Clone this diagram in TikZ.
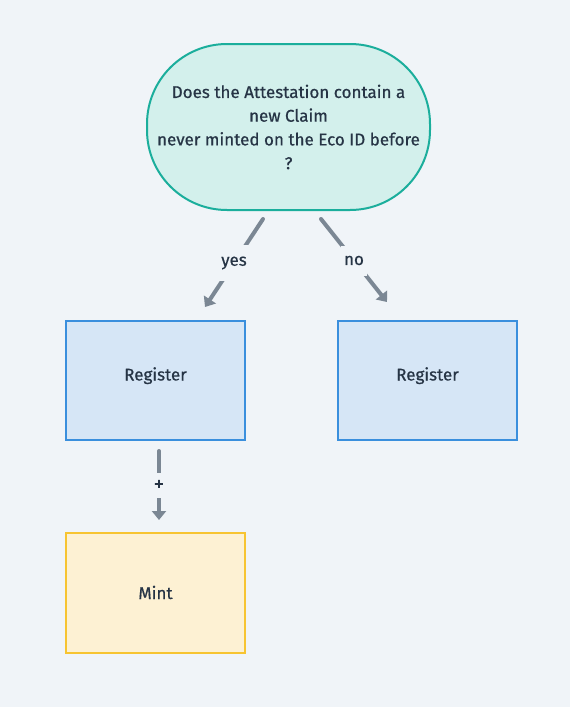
\documentclass[tikz,border=0pt]{standalone}
\usepackage{fontspec}
\setmainfont{Fira Sans}[FakeBold=0.6]
\usetikzlibrary{arrows.meta}
\definecolor{bg}{HTML}{F0F4F8}
\definecolor{ink}{HTML}{263445}
\definecolor{wire}{HTML}{7B8794}
\definecolor{askfill}{HTML}{D3F0EC}
\definecolor{askline}{HTML}{1BAE9C}
\definecolor{regfill}{HTML}{D6E6F6}
\definecolor{regline}{HTML}{3A8FDD}
\definecolor{mintfill}{HTML}{FDF1D3}
\definecolor{mintline}{HTML}{F7C431}
\tikzset{
    box/.style={draw, line width=2pt, minimum width=179pt, minimum height=119pt, text=ink, text height=12pt, text depth=0pt, font=\fontsize{17}{20}\selectfont},
    reg/.style={box, draw=regline, fill=regfill, text depth=12pt},
    ask/.style={draw=askline, fill=askfill, line width=2pt, rounded corners=80pt, minimum width=283pt, minimum height=166pt, align=center, text=ink, font=\fontsize{17}{23.7}\selectfont},
    wired/.style={draw=wire, line width=4pt, line cap=round, -{Triangle[width=14pt,length=9pt]}},
    tag/.style={fill=bg, text=ink, inner xsep=3pt, font=\fontsize{17}{20}\selectfont}
}
\begin{document}
\begin{tikzpicture}[x=1pt,y=-1pt]
    \fill[bg] (0,0) rectangle (570,707);
    \useasboundingbox (0,0) rectangle (570,707);
    \node[ask] (q) at (288.5,127) {Does the Attestation contain a\\new Claim\\never minted on the Eco ID before\\?};
    \node[reg] (reg1) at (155.5,380.5) {Register};
    \node[reg] (reg2) at (427.5,380.5) {Register};
    \node[box, draw=mintline, fill=mintfill, minimum height=120pt] (mint) at (155.5,593) {Mint};
    % free ends of the connectors
    \coordinate (yesA) at ([xshift=-25.5pt,yshift=-8pt]q.south);
    \coordinate (yesB) at ([xshift=49.5pt,yshift=13pt]reg1.north);
    \coordinate (noA) at ([xshift=32.5pt,yshift=-8pt]q.south);
    \coordinate (noB) at ([xshift=-40.5pt,yshift=18pt]reg2.north);
    \coordinate (plusA) at ([xshift=3.5pt,yshift=-10pt]reg1.south);
    \coordinate (plusB) at ([xshift=3.5pt,yshift=12pt]mint.north);
    \draw[wired] (yesA) -- node[tag, minimum height=36pt] {yes} (yesB);
    \draw[wired] (noA) -- node[tag, minimum height=30pt] {no} (noB);
    \draw[wired] (plusA) -- node[tag, minimum height=25pt, font=\fontsize{21}{24}\selectfont] {+} (plusB);
    % \draw[wired] (reg1) -- (mint);
\end{tikzpicture}
\end{document}
